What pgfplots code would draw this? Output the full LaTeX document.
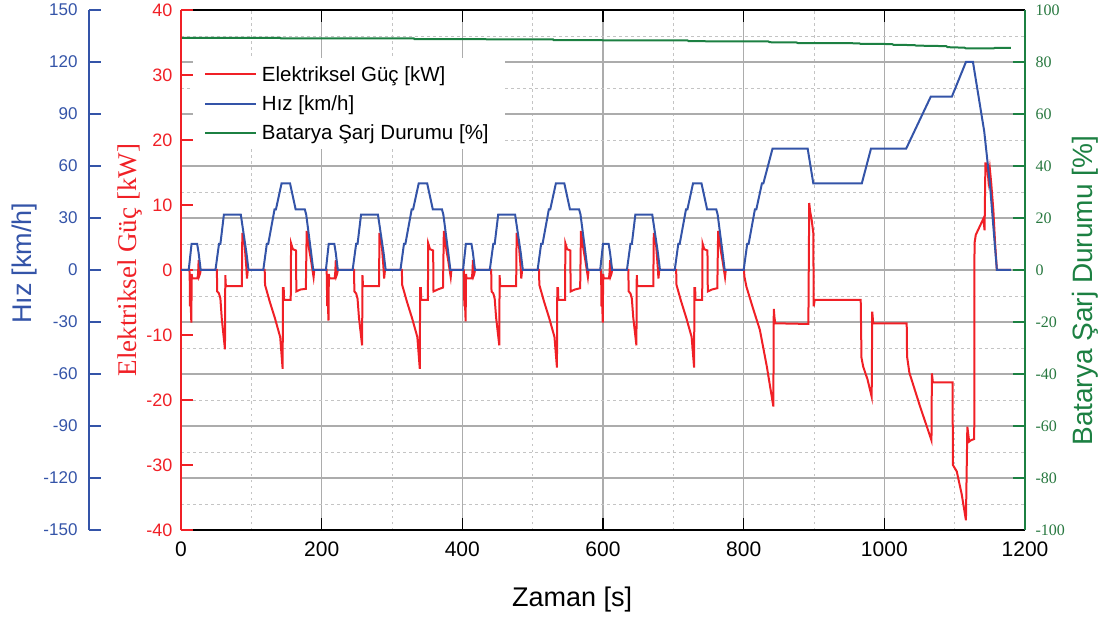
\documentclass[border=0pt]{standalone}
\usepackage{fontspec}
\setmainfont{Liberation Sans}
\newfontfamily\seriffont{Liberation Serif}
\usepackage{pgfplots}
\usepackage{pgfplotstable}
\pgfplotsset{compat=1.18}

\definecolor{pwrred}{RGB}{240,32,38}
\definecolor{spdblue}{RGB}{52,84,168}
\definecolor{socgreen}{RGB}{28,128,66}
\definecolor{socgreentext}{RGB}{40,120,64}
\definecolor{majgrid}{RGB}{172,172,172}
\definecolor{mingrid}{RGB}{196,196,196}

% NEDC speed profile: four ECE-15 urban cycles followed by the EUDC
\pgfplotstableread{
t v
0 0
11 0
15 15
23 15
25 10
28 0
49 0
54 15
56 15
61 32
85 32
93 10
96 0
117 0
122 15
124 15
133 35
135 35
143 50
155 50
163 35
176 35
178 32
185 10
188 0
195 0
206 0
210 15
218 15
220 10
223 0
244 0
249 15
251 15
256 32
280 32
288 10
291 0
312 0
317 15
319 15
328 35
330 35
338 50
350 50
358 35
371 35
373 32
380 10
383 0
390 0
401 0
405 15
413 15
415 10
418 0
439 0
444 15
446 15
451 32
475 32
483 10
486 0
507 0
512 15
514 15
523 35
525 35
533 50
545 50
553 35
566 35
568 32
575 10
578 0
585 0
596 0
600 15
608 15
610 10
613 0
634 0
639 15
641 15
646 32
670 32
678 10
681 0
702 0
707 15
709 15
718 35
720 35
728 50
740 50
748 35
761 35
763 32
770 10
773 0
780 0
800 0
805 15
807 15
816 35
818 35
826 50
828 50
841 70
891 70
899 50
968 50
981 70
1031 70
1066 100
1096 100
1116 120
1126 120
1142 80
1150 50
1160 0
1180 0
}\speedtable

% electrical power of the drive [kW]; negative = battery discharge
\pgfplotstableread{
t p
0 0
12 0
12.4 -1.2
12.8 -5.6
13.6 -4.6
14.7 -8.1
15.2 -0.6
16 -1.3
23.5 -1.3
24.3 -0.4
25.1 1.5
26 -0.9
27 -0.6
28 0
51 0
51.5 -3.3
54 -3.6
56 -4.4
58 -7.5
62.5 -12.2
63 -0.8
63.8 -2.5
86.5 -2.5
87.2 5.7
90.5 3.8
92.8 0.5
93.8 -1.3
95 0
119 0
119.5 -2.3
126 -4.8
133.5 -7.4
141 -10.3
144.5 -15.2
145 -2.8
146 -2.8
146.5 -4.6
156 -4.6
156.5 4.1
159 3.2
163.5 3.0
164 -3.3
170 -3.0
177.5 -2.9
178.7 6.0
182.3 3.1
185 1.4
188.5 -1.1
189.5 0
207 0
207.4 -1.2
207.8 -5.5
208.6 -4.5
209.7 -7.8
210.2 -0.6
211 -1.3
218.5 -1.3
219.3 -0.4
220.1 1.5
221 -0.9
222 -0.6
223 0
246 0
246.5 -3.3
249 -3.6
251 -4.4
253 -7.3
257.5 -11.6
258 -0.8
258.8 -2.5
281.5 -2.5
282.2 5.7
285.5 3.8
287.8 0.5
288.8 -1.3
290 0
314 0
314.5 -2.3
321 -4.8
328.5 -7.4
336 -10.3
339.5 -15.2
340 -2.8
341 -2.8
341.5 -4.6
351 -4.6
351.5 4.1
354 3.2
358.5 3.0
359 -3.3
365 -3.0
372.5 -2.7
373.7 6.0
377.3 3.1
380 1.4
383.5 -1.1
384.5 0
402 0
402.4 -1.2
402.8 -5.6
403.6 -4.6
404.7 -7.9
405.2 -0.6
406 -1.3
413.5 -1.3
414.3 -0.4
415.1 1.5
416 -0.9
417 -0.6
418 0
441 0
441.5 -3.3
444 -3.6
446 -4.4
448 -7.3
452.5 -11.6
453 -0.8
453.8 -2.5
476.5 -2.5
477.2 5.7
480.5 3.8
482.8 0.5
483.8 -1.3
485 0
509 0
509.5 -2.3
516 -4.8
523.5 -7.4
531 -10.3
534.5 -15.0
535 -2.8
536 -2.8
536.5 -4.6
546 -4.6
546.5 4.1
549 3.2
553.5 3.0
554 -3.3
560 -3.0
567.5 -2.8
568.7 6.0
572.3 3.1
575 1.4
578.5 -1.1
579.5 0
597 0
597.4 -1.2
597.8 -5.6
598.6 -4.6
599.7 -8.1
600.2 -0.6
601 -1.3
608.5 -1.3
609.3 -0.4
610.1 1.5
611 -0.9
612 -0.6
613 0
636 0
636.5 -3.3
639 -3.6
641 -4.4
643 -7.3
647.5 -11.6
648 -0.8
648.8 -2.5
671.5 -2.5
672.2 5.7
675.5 3.8
677.8 0.5
678.8 -1.3
680 0
704 0
704.5 -2.3
711 -4.8
718.5 -7.4
726 -10.3
729.5 -15.0
730 -2.8
731 -2.8
731.5 -4.6
741 -4.6
741.5 4.1
744 3.2
748.5 3.0
749 -3.3
755 -3.0
762.5 -2.8
763.7 6.0
767.3 3.1
770 1.4
773.5 -1.1
774.5 0
800.5 0
801 -1
804 -2.6
813 -5.8
823 -9.2
833 -14.9
842.2 -21
842.8 -6
844 -7.5
845 -8.2
892 -8.3
893.2 10.3
894.5 9.0
896.7 7.7
899 5.7
899.6 -5.6
901 -4.6
966.4 -4.6
967.5 -13.5
970 -14.9
976 -16.8
982 -19.5
982.8 -6.4
984 -8.0
985 -8.2
1031.8 -8.2
1032.3 -13.3
1035.6 -15.8
1050.8 -21
1067 -26.2
1067.6 -15.9
1069 -17.3
1097 -17.3
1097.5 -30
1103 -31
1110 -34.5
1116 -38.5
1118 -24.1
1120.6 -26.4
1123 -26.2
1127.8 -26.0
1128.2 4.1
1130 5.4
1140.8 7.9
1142.5 6.1
1143.7 16.4
1146 16.4
1148 13.8
1150 15.6
1152 13.3
1155 9.2
1157.5 4.1
1160 0
1180 0
}\powertable

% battery state of charge [%]
\pgfplotstableread{
t s
0 89.3
141 89.3
142 89.1
331 89.1
332 88.8
529 88.7
530 88.4
720 88.3
722 88.0
835 87.9
837 87.6
875 87.5
877 87.3
964 87.2
966 87.0
1011 86.9
1013 86.6
1043 86.5
1045 86.3
1088 86.1
1090 85.7
1114 85.5
1116 85.2
1155 85.2
1157 85.4
1180 85.4
}\soctable

\pgfplotsset{
  plotarea/.style={
    scale only axis, width=844pt, height=520pt,
    at={(181pt,91pt)}, anchor=south west,
    xmin=0, xmax=1200,
    /pgf/number format/assume math mode=true,
    /pgf/number format/1000 sep={},
    major tick length=12pt, minor tick length=0pt,
  },
}

\begin{document}
\begin{tikzpicture}
\useasboundingbox (0pt,0pt) rectangle (1107pt,621pt);

% grid, time axis and state-of-charge axis (right)
\begin{axis}[plotarea,
  ymin=-100, ymax=100,
  axis x line*=box, axis y line*=right,
  xtick={0,200,...,1200}, minor xtick={100,300,...,1100},
  ytick={-100,-80,...,100}, minor ytick={-90,-70,...,90},
  grid=both,
  major grid style={majgrid, line width=1.3pt},
  minor grid style={mingrid, line width=0.9pt, dash pattern=on 2.5pt off 3.5pt},
  x axis line style={black, line width=1.6pt},
  y axis line style={socgreen, line width=1.8pt},
  xtick style={black, line width=1.6pt},
  ytick style={socgreen, line width=1.8pt},
  xticklabel style={font=\fontsize{21}{22}\selectfont, text=black, yshift=-8pt},
  yticklabel style={font=\seriffont\fontsize{16}{17}\selectfont, text=socgreentext, xshift=7pt},
  xlabel={Zaman [s]},
  xlabel style={at={(axis description cs:0.4633,-0.1346)}, anchor=center,
    font=\fontsize{27}{28}\selectfont},
  ylabel={Batarya Şarj Durumu [\%]},
  ylabel style={at={(axis description cs:1.0711,0.46)}, anchor=center,
    font=\fontsize{28}{29}\selectfont, text=socgreen},
]
\addplot[socgreen, line width=2pt] table[x=t, y=s] {\soctable};
\end{axis}

% electrical power axis (left)
\begin{axis}[plotarea,
  ymin=-40, ymax=40,
  axis x line=none, axis y line*=left,
  ytick={-40,-30,...,40},
  y axis line style={pwrred, line width=1.8pt},
  ytick style={pwrred, line width=1.8pt},
  yticklabel style={font=\fontsize{18}{19}\selectfont, text=pwrred, xshift=-5pt},
  ylabel={Elektriksel Güç [kW]},
  ylabel style={at={(axis description cs:-0.0604,0.519)}, anchor=center,
    font=\seriffont\fontsize{27}{28}\selectfont, text=pwrred},
  legend cell align=left,
  legend image code/.code={\draw[#1, line width=1.8pt] (0pt,0pt) -- (51pt,0pt);},
  legend style={at={(0.0142,0.9077)}, anchor=north west, draw=none, fill=white,
    font=\fontsize{20.5}{22}\selectfont, inner xsep=11pt, inner ysep=8pt,
    row sep=13pt, nodes={inner xsep=5pt, inner ysep=0pt}},
]
\addplot[pwrred, line width=2pt] table[x=t, y=p] {\powertable};
\addlegendentry{Elektriksel Güç [kW]}
\addlegendimage{spdblue}
\addlegendentry{Hız [km/h]}
\addlegendimage{socgreen}
\addlegendentry{Batarya Şarj Durumu [\%]}
\end{axis}

% vehicle speed
\begin{axis}[plotarea, ymin=-150, ymax=150, hide axis]
\addplot[spdblue, line width=2pt] table[x=t, y=v] {\speedtable};
\end{axis}

% speed axis, set off to the left of the plot area
\begin{axis}[
  scale only axis, width=1pt, height=520pt,
  at={(89pt,91pt)}, anchor=south west,
  xmin=0, xmax=1, ymin=-150, ymax=150,
  /pgf/number format/assume math mode=true,
  major tick length=12pt,
  axis x line=none, axis y line*=left,
  ytick={-150,-120,...,150},
  y axis line style={spdblue, line width=1.8pt},
  ytick style={spdblue, line width=1.8pt},
  yticklabel style={font=\fontsize{17}{18}\selectfont, text=spdblue, xshift=-8pt},
  ylabel={Hız [km/h]},
  ylabel style={at={(axis description cs:-65,0.513)}, anchor=center,
    font=\fontsize{27}{28}\selectfont, text=spdblue},
]
\addplot[draw=none] coordinates {(0,0)};
\end{axis}
\end{tikzpicture}
\end{document}
